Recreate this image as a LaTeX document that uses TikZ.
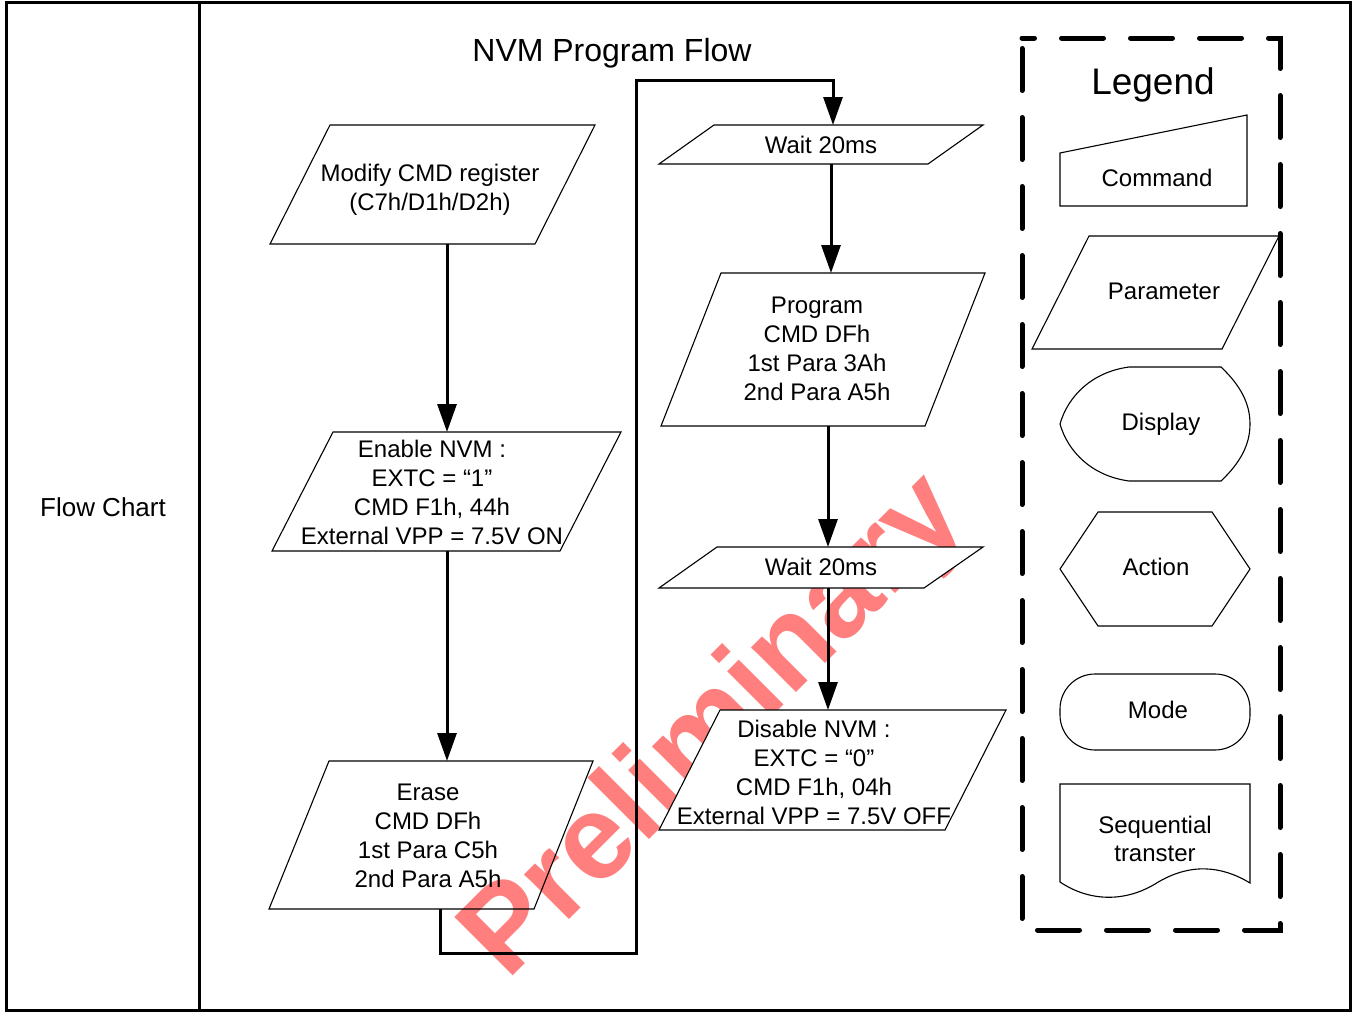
\documentclass[tikz,border=0pt]{standalone}
\usepackage{fontspec}
\setmainfont{Liberation Sans}
\usetikzlibrary{arrows.meta}
\begin{document}
\begin{tikzpicture}[x=1pt,y=-1pt,
  shp/.style={draw=black,line width=1.1pt},
  shpw/.style={draw=black,fill=white,line width=1.1pt},
  conn/.style={draw=black,line width=3pt,-{Triangle[length=28pt,width=19pt]}},
  txt/.style={font=\fontsize{24}{29}\selectfont,align=center,inner sep=0pt},
  frm/.style={draw=black,line width=3pt},
  lgnd/.style={draw=black,line width=5pt,line cap=round,dash pattern=on 42pt off 27pt,dash phase=29.5pt}]
\useasboundingbox (0,0) rectangle (1355,1012);
\fill[white] (0,0) rectangle (1355,1012);
% watermark (behind)
\node[rotate=45,anchor=base west,text=red,opacity=0.5,inner sep=0pt,
  font=\fontsize{120}{120}\bfseries\selectfont] (wm) at (507,982) {Preliminary};
% frame
\draw[frm] (6,2) rectangle (1350,1010);
\draw[frm] (199,2) -- (199,1010);
\node[txt,font=\fontsize{26}{30}\selectfont] (fc) at (103,507) {Flow Chart};
\node[txt,font=\fontsize{32}{36}\selectfont] (title) at (612,53) {NVM Program Flow};
% shapes
\draw[shp] (330,125) -- (595,125) -- (535,244) -- (270,244) -- cycle;
\node[txt] (mod) at (430,190) {Modify CMD register\\(C7h/D1h/D2h)};
\coordinate (modB) at (447,244);
\draw[shp] (333,432) -- (621,432) -- (560,551) -- (272,551) -- cycle;
\node[txt] (ena) at (432,492) {Enable NVM :\\EXTC = “1”\\CMD F1h, 44h\\External VPP = 7.5V ON};
\coordinate (enaT) at (447,432);
\coordinate (enaB) at (447,551);
\draw[shp] (329,761) -- (593,761) -- (534,909) -- (269,909) -- cycle;
\node[txt] (era) at (428,836) {Erase\\CMD DFh\\1st Para C5h\\2nd Para A5h};
\coordinate (eraT) at (447,761);
\coordinate (eraB) at (440,909);
\draw[shpw] (714,125) -- (983,125) -- (928,164) -- (659,164) -- cycle;
\node[txt] (w1) at (821,145) {Wait 20ms};
\coordinate (w1T) at (833,125);
\coordinate (w1B) at (831,164);
\draw[shpw] (721,273) -- (985,273) -- (925,426) -- (661,426) -- cycle;
\node[txt] (prg) at (817,349) {Program\\CMD DFh\\1st Para 3Ah\\2nd Para A5h};
\coordinate (prgT) at (831,273);
\coordinate (prgB) at (828,426);
\draw[shpw] (717,547) -- (983,547) -- (924,588) -- (659,588) -- cycle;
\node[txt] (w2) at (821,567) {Wait 20ms};
\coordinate (w2T) at (828,547);
\coordinate (w2B) at (828,588);
\draw[shpw] (720,710) -- (1006,710) -- (945,830) -- (659,830) -- cycle;
\node[txt] (dis) at (814,772) {Disable NVM :\\EXTC = “0”\\CMD F1h, 04h\\External VPP = 7.5V OFF};
\coordinate (disT) at (828,710);
% connectors
\coordinate (l1) at (440,953);
\coordinate (l2) at (636,953);
\coordinate (l3) at (636,80);
\coordinate (l4) at (833,80);
\draw[conn] (modB) -- (enaT);
\draw[conn] (enaB) -- (eraT);
\draw[conn,line join=miter] (eraB) -- (l1) -- (l2) -- (l3) -- (l4) -- (w1T);
\draw[conn] (w1B) -- (prgT);
\draw[conn] (prgB) -- (w2T);
\draw[conn] (w2B) -- (disT);
% legend
\draw[lgnd] (1022,38) -- (1280,38) -- (1280,930) -- (1022,930) -- cycle;
\node[txt,font=\fontsize{37}{40}\selectfont] (lg) at (1153,85) {Legend};
\draw[shp] (1060,153) -- (1247,115) -- (1247,206) -- (1060,206) -- cycle;
\node[txt] (cmd) at (1157,178) {Command};
\draw[shp] (1089,236) -- (1279,236) -- (1222,349) -- (1032,349) -- cycle;
\node[txt] (par) at (1164,291) {Parameter};
\draw[shp] (1129,367) -- (1221,367) .. controls (1240,385) and (1250,403) .. (1250,424)
  .. controls (1250,445) and (1240,463) .. (1221,481) -- (1129,481)
  .. controls (1092,476) and (1068,452) .. (1060,424)
  .. controls (1068,396) and (1092,372) .. (1129,367) -- cycle;
\node[txt] (dsp) at (1161,424) {Display};
\draw[shp] (1060,569) -- (1098,512) -- (1212,512) -- (1250,569) -- (1212,626) -- (1098,626) -- cycle;
\node[txt] (act) at (1156,567) {Action};
\draw[shp,rounded corners=35pt] (1060,674) rectangle (1250,750);
\node[txt] (mode) at (1158,710) {Mode};
\draw[shp] (1060,784) -- (1250,784) -- (1250,883)
  .. controls (1222,866) and (1190,862) .. (1155,884)
  .. controls (1125,902) and (1090,902) .. (1060,882) -- cycle;
\node[txt,font=\fontsize{24}{28}\selectfont] (seq) at (1155,839) {Sequential\\transter};
\end{tikzpicture}
\end{document}
